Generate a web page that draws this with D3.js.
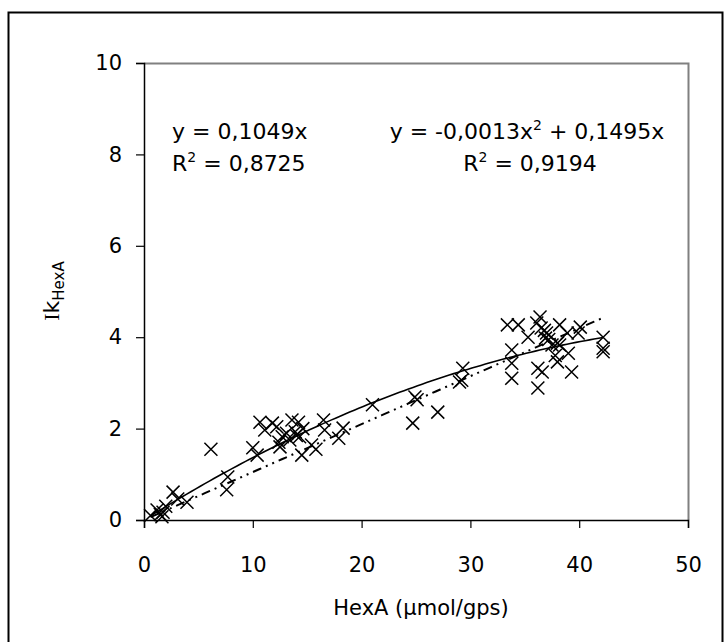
<!DOCTYPE html>
<html>
<head>
<meta charset="utf-8">
<script src="https://cdn.jsdelivr.net/npm/d3@7"></script>
<style>
  body { margin: 0; background: #fff; }
  text { font-family: "DejaVu Sans", sans-serif; fill: #000; }
</style>
</head>
<body>
<script>
// data (HexA, IkHexA)
const hexA = [0.6, 1.2, 1.5, 1.65, 1.75, 2.0, 2.67, 3.1, 3.95,
  6.15, 7.6, 7.7,
  10.0, 10.4, 10.66, 11.1, 11.8, 12.2, 12.5, 12.7, 12.4, 13.1, 13.4, 13.6, 13.9, 14.0,
  14.2, 14.3, 14.6, 14.5, 15.4, 15.8, 16.5, 16.6, 17.9, 18.3,
  21.0, 24.7, 24.9, 25.1, 27.0, 29.0, 29.3, 29.2,
  33.4, 34.4, 33.8, 33.8, 33.8, 35.3, 36.1, 36.4, 36.2, 36.2, 36.6, 36.9, 37.0, 36.8,
  37.5, 38.2, 38.0, 38.0, 38.2, 38.9, 39.0, 39.3, 39.9, 40.1, 42.2, 42.2, 42.2, 37.2, 36.5, 37.8];
const ikHexA = [0.1, 0.22, 0.12, 0.07, 0.17, 0.3, 0.61, 0.46, 0.39,
  1.55, 0.66, 0.94,
  1.58, 1.42, 2.14, 1.97, 2.12, 2.04, 1.6, 1.82, 1.7, 1.9, 1.75, 2.19, 1.93, 1.85,
  2.14, 1.82, 2.0, 1.42, 1.64, 1.55, 2.19, 1.97, 1.79, 2.01,
  2.52, 2.12, 2.69, 2.63, 2.36, 3.02, 3.32, 3.06,
  4.27, 4.27, 3.72, 3.43, 3.1, 4.0, 4.31, 4.44, 3.32, 2.89, 3.24, 3.98, 4.09, 4.15,
  3.83, 4.27, 3.87, 3.46, 3.83, 4.09, 3.65, 3.24, 4.09, 4.22, 4.0, 3.76, 3.68, 3.95, 4.2, 3.6];

// trendline coefficients as printed on the chart
const linSlope = 0.1049;
const polyA = -0.0013, polyB = 0.1495;
const xTicks = [0, 10, 20, 30, 40, 50];
const yTicks = [0, 2, 4, 6, 8, 10];

const W = 725, H = 642;
const plot = { left: 144, right: 688, top: 63, bottom: 520 };

const svg = d3.select("body").append("svg")
  .attr("width", W).attr("height", H);

// outer frame
svg.append("rect")
  .attr("x", 8.5).attr("y", 12.5)
  .attr("width", 714).attr("height", 640)
  .attr("fill", "none").attr("stroke", "#000").attr("stroke-width", 2);

const x = d3.scaleLinear().domain([0, 50]).range([plot.left, plot.right]);
const y = d3.scaleLinear().domain([0, 10]).range([plot.bottom, plot.top]);

// grey plot-area border (top + right)
svg.append("path")
  .attr("d", `M${plot.left},${plot.top + 0.5}H${plot.right + 0.5}V${plot.bottom}`)
  .attr("fill", "none").attr("stroke", "#808080").attr("stroke-width", 2);

const xAxis = svg.append("g")
  .attr("transform", `translate(0,${plot.bottom})`)
  .call(d3.axisBottom(x).tickValues(xTicks).tickSize(8).tickPadding(29).tickFormat(d3.format("d")));
const yAxis = svg.append("g")
  .attr("transform", `translate(${plot.left},0)`)
  .call(d3.axisLeft(y).tickValues(yTicks).tickSize(8).tickPadding(14).tickFormat(d3.format("d")));

[xAxis, yAxis].forEach(g => {
  g.select(".domain").attr("stroke", "#000").attr("stroke-width", 1.5);
  g.selectAll(".tick line").attr("stroke", "#000").attr("stroke-width", 1.2);
  g.selectAll(".tick text").style("font-size", "21px")
    .style("font-family", "\"DejaVu Sans\", sans-serif");
});

// axis titles
svg.append("text")
  .attr("x", 421).attr("y", 615)
  .attr("text-anchor", "middle").style("font-size", "21px")
  .text("HexA (μmol/gps)");

const yt = svg.append("text")
  .attr("transform", "translate(59,291) rotate(-90)")
  .attr("text-anchor", "middle").style("font-size", "22px");
yt.append("tspan").style("font-family", "\"Liberation Serif\", serif").text("I");
yt.append("tspan").text("k");
yt.append("tspan").attr("dy", 5).style("font-size", "15px").text("HexA");

// trendlines
const xs = d3.range(0, 101).map(i => 0.6 + (42.2 - 0.6) * i / 100);
const line = d3.line().x(d => x(d[0])).y(d => y(d[1]));

svg.append("path")
  .datum(xs.map(v => [v, linSlope * v]))
  .attr("d", line)
  .attr("fill", "none").attr("stroke", "#000").attr("stroke-width", 2)
  .attr("stroke-dasharray", "9,5,2,5,2,5");

svg.append("path")
  .datum(xs.map(v => [v, polyA * v * v + polyB * v]))
  .attr("d", line)
  .attr("fill", "none").attr("stroke", "#000").attr("stroke-width", 1.6);

// X markers
const pts = hexA.map((v, i) => [v, ikHexA[i]]);
const s = 6.5;
svg.append("g").selectAll("path")
  .data(pts)
  .join("path")
  .attr("transform", d => `translate(${x(d[0])},${y(d[1])})`)
  .attr("d", `M${-s},${-s}L${s},${s}M${-s},${s}L${s},${-s}`)
  .attr("stroke", "#000").attr("stroke-width", 1.5).attr("fill", "none");

// equations
const eq = svg.append("g").style("font-size", "22px");
eq.append("text").attr("x", 172).attr("y", 139).text("y = 0,1049x");
const r1 = eq.append("text").attr("x", 172).attr("y", 171);
r1.append("tspan").text("R");
r1.append("tspan").attr("dy", -9).style("font-size", "14px").text("2");
r1.append("tspan").attr("dy", 9).text(" = 0,8725");

const e2 = eq.append("text").attr("x", 527).attr("y", 139).attr("text-anchor", "middle");
e2.append("tspan").text("y = -0,0013x");
e2.append("tspan").attr("dy", -9).style("font-size", "14px").text("2");
e2.append("tspan").attr("dy", 9).text(" + 0,1495x");
const r2 = eq.append("text").attr("x", 530).attr("y", 171).attr("text-anchor", "middle");
r2.append("tspan").text("R");
r2.append("tspan").attr("dy", -9).style("font-size", "14px").text("2");
r2.append("tspan").attr("dy", 9).text(" = 0,9194");
</script>
</body>
</html>
